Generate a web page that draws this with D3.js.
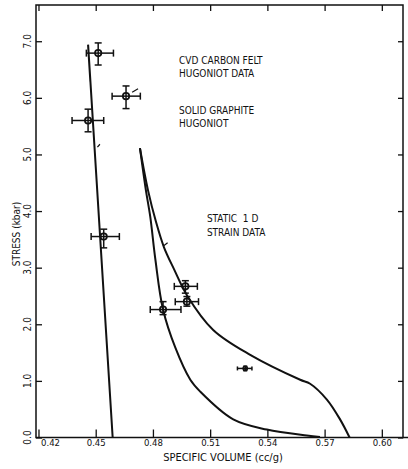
<!DOCTYPE html>
<html>
<head>
<meta charset="utf-8">
<script src="https://cdn.jsdelivr.net/npm/d3@7/dist/d3.min.js"></script>
<style>
  body { margin: 0; background: #fff; }
  svg text {
    font-family: "DejaVu Sans Condensed", "Liberation Sans Narrow", "DejaVu Sans", sans-serif;
    fill: #111;
  }
</style>
</head>
<body>
<div id="chart"></div>
<script>
const xTicks = [0.42, 0.45, 0.48, 0.51, 0.54, 0.57, 0.60];
const yTicks = [0, 1, 2, 3, 4, 5, 6, 7];

// CVD carbon felt hugoniot data: [v, stress, vLow, vHigh, stressLow, stressHigh]
const feltPoints = [
  [0.4513, 6.79, 0.4451, 0.4593, 6.58, 6.97],
  [0.4659, 6.03, 0.4586, 0.4734, 5.81, 6.21],
  [0.4460, 5.60, 0.4376, 0.4542, 5.40, 5.80],
  [0.4542, 3.55, 0.4476, 0.4624, 3.35, 3.68],
  [0.4970, 2.67, 0.4912, 0.5033, 2.55, 2.77],
  [0.4978, 2.40, 0.4917, 0.5039, 2.32, 2.49],
  [0.4853, 2.26, 0.4786, 0.4947, 2.17, 2.40],
  [0.5284, 1.22, 0.5243, 0.5319, 1.18, 1.26]
];

const graphiteHugoniot = [[0.4460, 6.94], [0.4589, 0]];

// static 1-D strain curves: [v, stress]
const strainUpper = [
  [0.4732, 5.11], [0.4774, 4.37], [0.4816, 3.81], [0.4858, 3.36],
  [0.4911, 2.97], [0.4979, 2.51], [0.5116, 1.90], [0.5310, 1.46],
  [0.5572, 1.02], [0.5624, 0.95], [0.5712, 0.67], [0.5781, 0.32],
  [0.5831, 0]
];
const strainLower = [
  [0.4732, 5.11], [0.4763, 4.37], [0.4786, 3.90], [0.4813, 3.14],
  [0.4853, 2.26], [0.4917, 1.59], [0.4996, 1.02], [0.5048, 0.81],
  [0.5221, 0.32], [0.5397, 0.14], [0.5607, 0.035], [0.5676, 0.01]
];

// short leader strokes next to the labels: [v1, s1, v2, s2]
const leaderMarks = [
  [0.4691, 6.10, 0.4722, 6.16],
  [0.4509, 5.13, 0.4522, 5.18],
  [0.4853, 3.38, 0.4877, 3.44]
];

// label blocks: [text, v, stress]
const labels = [
  ["CVD CARBON FELT", 0.4937, 6.60],
  ["HUGONIOT DATA", 0.4937, 6.37],
  ["SOLID GRAPHITE", 0.4937, 5.71],
  ["HUGONIOT", 0.4937, 5.48],
  ["STATIC  1 D", 0.5083, 3.81],
  ["STRAIN DATA", 0.5083, 3.56]
];

const width = 408;
const height = 469;

const svg = d3.select("#chart")
  .append("svg")
  .attr("width", width)
  .attr("height", height);

const x = d3.scaleLinear()
  .domain([0.4187, 0.6111])
  .range([36, 403]);

const y = d3.scaleLinear()
  .domain([0, 7.64])
  .range([437.5, 5]);

const ink = "#111";

// frame
svg.append("rect")
  .attr("x", x.range()[0])
  .attr("y", y.range()[1])
  .attr("width", x.range()[1] - x.range()[0])
  .attr("height", y.range()[0] - y.range()[1])
  .attr("fill", "none")
  .attr("stroke", ink)
  .attr("stroke-width", 1.5);

// bottom axis runs a little past the frame
svg.append("line")
  .attr("x1", x.range()[1])
  .attr("x2", width)
  .attr("y1", y(0))
  .attr("y2", y(0))
  .attr("stroke", ink)
  .attr("stroke-width", 1.5);

const styleAxis = (g) => {
  g.select(".domain").remove();
  g.selectAll("line").attr("stroke", ink).attr("stroke-width", 1.3);
};

svg.append("g")
  .attr("transform", `translate(0,${y(0)})`)
  .call(d3.axisBottom(x).tickValues(xTicks).tickSizeInner(-8).tickSizeOuter(0)
    .tickPadding(2).tickFormat(d3.format(".2f")))
  .call(styleAxis)
  .call((g) => g.selectAll("text")
    .style("font-size", "9.5px")
    .attr("fill", ink))
  .call((g) => g.selectAll(".tick")
    .filter((d) => d === xTicks[0])
    .select("text")
    .attr("text-anchor", "start")
    .attr("dx", 2));

svg.append("g")
  .attr("transform", `translate(0,${y.range()[1]})`)
  .call(d3.axisTop(x).tickValues(xTicks).tickSizeInner(-6).tickSizeOuter(0).tickFormat(""))
  .call(styleAxis);

svg.append("g")
  .attr("transform", `translate(${x.range()[0]},0)`)
  .call(d3.axisLeft(y).tickValues(yTicks).tickSizeInner(-6).tickSizeOuter(0).tickFormat(""))
  .call(styleAxis);

svg.append("g")
  .attr("transform", `translate(${x.range()[1]},0)`)
  .call(d3.axisRight(y).tickValues(yTicks).tickSizeInner(-5).tickSizeOuter(0).tickFormat(""))
  .call(styleAxis);

// rotated stress tick labels
svg.append("g")
  .selectAll("text")
  .data(yTicks)
  .join("text")
  .attr("transform", (d) => `translate(31,${y(d)}) rotate(-90)`)
  .attr("text-anchor", "middle")
  .style("font-size", "10px")
  .text((d) => d3.format(".1f")(d));

// axis titles
svg.append("text")
  .attr("transform", `translate(20,234) rotate(-90)`)
  .attr("text-anchor", "middle")
  .style("font-size", "10px")
  .text("STRESS (kbar)");

svg.append("text")
  .attr("x", 223)
  .attr("y", 461)
  .attr("text-anchor", "middle")
  .style("font-size", "11px")
  .text("SPECIFIC VOLUME (cc/g)");

// curves
const line = d3.line()
  .x((d) => x(d[0]))
  .y((d) => y(d[1]));

svg.append("path")
  .datum(graphiteHugoniot)
  .attr("d", line)
  .attr("fill", "none")
  .attr("stroke", ink)
  .attr("stroke-width", 2);

const smooth = d3.line()
  .x((d) => x(d[0]))
  .y((d) => y(d[1]))
  .curve(d3.curveCatmullRom.alpha(0.5));

[strainUpper, strainLower].forEach((curve) => {
  svg.append("path")
    .datum(curve)
    .attr("d", smooth)
    .attr("fill", "none")
    .attr("stroke", ink)
    .attr("stroke-width", 2);
});

svg.append("g")
  .selectAll("line")
  .data(leaderMarks)
  .join("line")
  .attr("x1", (d) => x(d[0]))
  .attr("y1", (d) => y(d[1]))
  .attr("x2", (d) => x(d[2]))
  .attr("y2", (d) => y(d[3]))
  .attr("stroke", ink)
  .attr("stroke-width", 1.2);

// error bars with caps
const bars = svg.append("g")
  .attr("stroke", ink)
  .attr("stroke-width", 1.5)
  .attr("fill", "none");

feltPoints.forEach(([v, s, vLo, vHi, sLo, sHi], i) => {
  const small = i === feltPoints.length - 1;
  const cap = small ? 2 : 3.5;
  const cx = x(v);
  const cy = y(s);

  bars.append("line").attr("x1", x(vLo)).attr("x2", x(vHi)).attr("y1", cy).attr("y2", cy);
  bars.append("line").attr("x1", cx).attr("x2", cx).attr("y1", y(sLo)).attr("y2", y(sHi));

  [vLo, vHi].forEach((value) => {
    bars.append("line").attr("x1", x(value)).attr("x2", x(value))
      .attr("y1", cy - cap).attr("y2", cy + cap);
  });
  [sLo, sHi].forEach((value) => {
    bars.append("line").attr("x1", cx - cap).attr("x2", cx + cap)
      .attr("y1", y(value)).attr("y2", y(value));
  });

  bars.append("circle")
    .attr("cx", cx)
    .attr("cy", cy)
    .attr("r", small ? 2 : 3.2)
    .attr("stroke-width", 1.7);
});

svg.append("g")
  .selectAll("text")
  .data(labels)
  .join("text")
  .attr("x", (d) => x(d[1]))
  .attr("y", (d) => y(d[2]))
  .style("font-size", "10px")
  .style("white-space", "pre")
  .text((d) => d[0]);
</script>
</body>
</html>
